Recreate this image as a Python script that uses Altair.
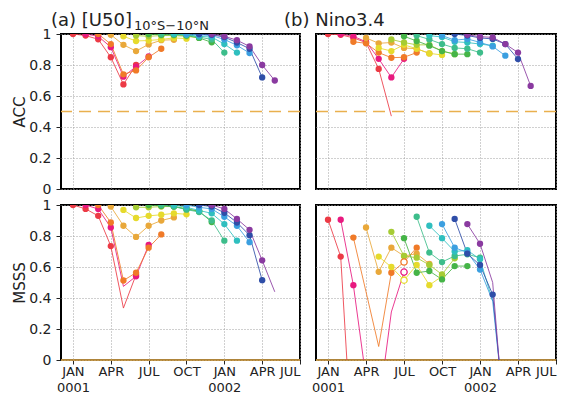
import altair as alt
import pandas as pd

# Forecasts started in each month of 2001; each line runs six monthly leads (lead 0..5).
START_MONTHS = ["Jan", "Feb", "Mar", "Apr", "May", "Jun",
                "Jul", "Aug", "Sep", "Oct", "Nov", "Dec"]
LINE_COLORS = ["#ec3a45", "#e8197f", "#f07a28", "#e9a83a", "#e6da2c", "#a6cc34",
               "#45b447", "#3dbd8b", "#2fbfbf", "#3b9fe0", "#2f4ea8", "#8a3aa0"]

# x axis: months since January 0001
TICK_MONTHS = [0, 3, 6, 9, 12, 15, 18]
TICK_NAMES = ["JAN", "APR", "JUL", "OCT", "JAN", "APR", "JUL"]
TICK_YEARS = ["0001", "", "", "", "0002", "", ""]
Y_TICKS = [0, 0.2, 0.4, 0.6, 0.8, 1.0]

# (a) [U50] 10S-10N, anomaly correlation
U50_ACC = [
    [1.00, 0.99, 0.966, 0.85, 0.675, 0.80],
    [1.00, 0.985, 0.915, 0.725, 0.79, 0.855],
    [1.00, 0.935, 0.74, 0.765, 0.85, 0.905],
    [0.995, 0.93, 0.89, 0.933, 0.96, 0.963],
    [0.985, 0.955, 0.958, 0.965, 0.975, 0.97],
    [0.99, 0.985, 0.99, 0.99, 0.985, 0.975],
    [1.00, 0.995, 0.995, 0.99, 0.975, 0.946],
    [1.00, 1.00, 0.995, 0.98, 0.965, 0.88],
    [1.00, 0.995, 0.985, 0.98, 0.935, 0.88],
    [1.00, 0.995, 0.99, 0.965, 0.927, 0.877],
    [1.00, 0.995, 0.98, 0.945, 0.905, 0.72],
    [1.00, 0.985, 0.96, 0.92, 0.80, 0.70],
]
U50_ACC_MARKS = ["ffffff"] * 12

# (b) Nino3.4, anomaly correlation
NINO_ACC = [
    [1.00, 0.995, 0.975, 0.945, 0.775, 0.47],
    [1.00, 0.985, 0.95, 0.84, 0.72, 0.84],
    [0.95, 0.94, 0.88, 0.847, 0.85, 0.88],
    [0.975, 0.94, 0.945, 0.91, 0.905, 0.875],
    [0.91, 0.89, 0.93, 0.905, 0.875, 0.865],
    [0.965, 0.945, 0.93, 0.93, 0.89, 0.87],
    [0.985, 0.955, 0.925, 0.89, 0.87, 0.87],
    [0.99, 0.965, 0.935, 0.91, 0.905, 0.88],
    [0.99, 0.98, 0.95, 0.945, 0.935, 0.925],
    [0.99, 0.96, 0.968, 0.946, 0.92, 0.86],
    [1.00, 0.99, 0.975, 0.968, 0.935, 0.838],
    [0.995, 0.983, 0.978, 0.935, 0.88, 0.665],
]
NINO_ACC_MARKS = ["fffffn"] + ["ffffff"] * 11

# (a) [U50] 10S-10N, mean-square skill score
U50_MSSS = [
    [1.00, 0.975, 0.93, 0.735, 0.335, 0.55],
    [1.00, 0.974, 0.855, 0.475, 0.54, 0.742],
    [1.00, 0.887, 0.513, 0.563, 0.725, 0.81],
    [0.99, 0.866, 0.794, 0.866, 0.90, 0.92],
    [0.968, 0.916, 0.93, 0.937, 0.946, 0.94],
    [0.985, 0.985, 0.99, 0.99, 0.975, 0.96],
    [1.00, 0.995, 0.99, 0.975, 0.96, 0.89],
    [1.00, 0.99, 0.97, 0.955, 0.90, 0.77],
    [1.00, 0.985, 0.965, 0.946, 0.877, 0.77],
    [1.00, 0.985, 0.975, 0.924, 0.866, 0.76],
    [1.00, 0.99, 0.95, 0.887, 0.805, 0.515],
    [1.00, 0.975, 0.91, 0.84, 0.643, 0.44],
]
U50_MSSS_MARKS = ["ffffnf", "fffnff"] + ["ffffff"] * 9 + ["fffffn"]

# (b) Nino3.4, mean-square skill score (negative values fall below the panel)
NINO_MSSS = [
    [0.905, 0.667, -0.70, -1.20, -1.00, -0.90],
    [0.905, 0.483, -0.12, -0.31, 0.31, 0.567],
    [0.79, 0.44, 0.087, 0.563, 0.632, 0.725],
    [0.855, 0.569, 0.725, 0.671, 0.686, 0.62],
    [0.667, 0.60, 0.515, 0.613, 0.483, 0.54],
    [0.827, 0.671, 0.66, 0.613, 0.552, 0.656],
    [0.786, 0.563, 0.574, 0.52, 0.606, 0.606],
    [0.924, 0.693, 0.632, 0.671, 0.682, 0.66],
    [0.866, 0.786, 0.70, 0.708, 0.65, 0.38],
    [0.877, 0.725, 0.693, 0.584, 0.38, -0.40],
    [0.91, 0.686, 0.613, 0.422, -0.42, -0.90],
    [0.877, 0.75, 0.50, -0.50, -1.00, -1.20],
]
NINO_MSSS_MARKS = ["ffnnnn", "ffnnno", "fnnfof", "ffffff", "ffofff", "ffffff",
                   "ffffff", "ffffff", "fffffn", "ffffnn", "ffffnn", "ffnnnn"]

FONT = "DejaVu Sans"


def build_frame(values, marks):
    rows = []
    for i, (vals, mk) in enumerate(zip(values, marks)):
        for lead, (v, m) in enumerate(zip(vals, mk)):
            rows.append({"start": START_MONTHS[i], "month": i + lead,
                         "value": v, "marker": m})
    return pd.DataFrame(rows)


def month_label_expr():
    expr = "''"
    for m, name, yr in reversed(list(zip(TICK_MONTHS, TICK_NAMES, TICK_YEARS))):
        lab = f"['{name}', '{yr}']" if yr else f"'{name}'"
        expr = f"datum.value == {m} ? {lab} : ({expr})"
    return expr


def panel(values, marks, width, show_y, show_x, y_title, ref_value, ref_dash, titles):
    df = build_frame(values, marks)
    x_axis = alt.Axis(values=TICK_MONTHS, grid=True, labels=show_x, ticks=show_x,
                      labelExpr=month_label_expr(), title=None, domain=False)
    y_axis = alt.Axis(values=Y_TICKS, grid=True, labels=show_y, ticks=show_y,
                      format="~g", title=y_title if show_y else None, domain=False)
    x = alt.X("month:Q", scale=alt.Scale(domain=[-0.95, 18], nice=False, zero=False),
              axis=x_axis)
    y = alt.Y("value:Q", scale=alt.Scale(domain=[0, 1], nice=False), axis=y_axis)
    color = alt.Color("start:N", scale=alt.Scale(domain=START_MONTHS, range=LINE_COLORS),
                      legend=None)

    base = alt.Chart(df).encode(x=x, y=y, color=color)
    lines = base.mark_line(strokeWidth=1, clip=True, opacity=0.85).encode(order="month:Q")
    filled = base.transform_filter(alt.datum.marker == "f").mark_circle(
        size=40, opacity=1, clip=True)
    hollow = base.transform_filter(alt.datum.marker == "o").mark_point(
        shape="circle", filled=False, fill="white", size=40, strokeWidth=1.3,
        opacity=1, clip=True)

    rule_kwargs = dict(color="#e9b04e", strokeWidth=1.4)
    if ref_dash:
        rule_kwargs["strokeDash"] = [12, 7]
    ref = alt.Chart(pd.DataFrame({"value": [ref_value]})).mark_rule(**rule_kwargs).encode(y=y)

    layers = [ref, lines, filled, hollow]
    for text, dx, dy, size in titles:
        layers.append(
            alt.Chart(pd.DataFrame({"t": [text]})).mark_text(
                align="left", baseline="alphabetic", font=FONT, fontSize=size,
                color="#222222").encode(x=alt.value(dx), y=alt.value(dy), text="t:N"))
    return alt.layer(*layers).properties(width=width, height=155)


pa_acc = panel(U50_ACC, U50_ACC_MARKS, 239, True, False, "ACC", 0.5, True,
               [("(a) [U50]", -10, -8, 18), ("10°S−10°N", 73, -4.5, 13)])
pb_acc = panel(NINO_ACC, NINO_ACC_MARKS, 240, False, False, "ACC", 0.5, True,
               [("(b) Nino3.4", -32, -8, 18)])
pa_msss = panel(U50_MSSS, U50_MSSS_MARKS, 239, True, True, "MSSS", 0, False, [])
pb_msss = panel(NINO_MSSS, NINO_MSSS_MARKS, 240, False, True, "MSSS", 0, False, [])

chart = alt.concat(pa_acc, pb_acc, pa_msss, pb_msss, columns=2, spacing=16,
                   bounds="flush").properties(
    padding={"left": 11, "top": 11, "right": 0, "bottom": 0}
).configure_view(
    stroke="black", strokeWidth=2, fill="white"
).configure_axis(
    labelFont=FONT, labelFontSize=14, labelColor="#222222",
    titleFont=FONT, titleFontSize=15, titleFontWeight="normal", titleColor="#222222",
    titlePadding=1, labelPadding=5, tickSize=5, tickColor="#222222",
    gridColor="#a0a0a0", gridDash=[1, 2], gridWidth=1
).configure_axisX(labelPadding=1, tickSize=4, labelFontSize=13, labelLineHeight=16)

chart.save("out.html", embed_options={"renderer": "svg", "actions": False})
